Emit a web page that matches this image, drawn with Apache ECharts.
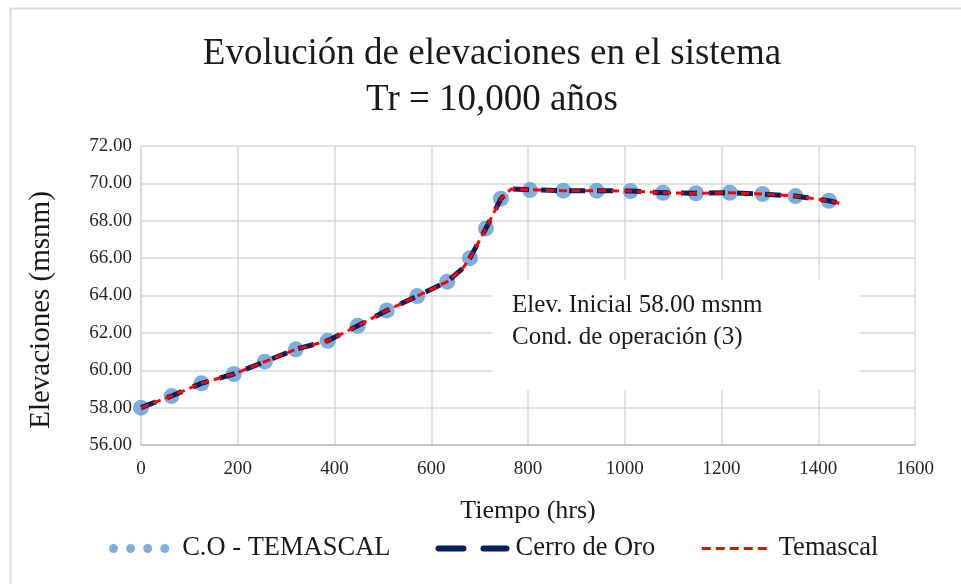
<!DOCTYPE html>
<html>
<head>
<meta charset="utf-8">
<script src="https://cdn.jsdelivr.net/npm/echarts@6/dist/echarts.min.js"></script>
<style>
html,body{margin:0;padding:0;background:#fff;}
#chart{width:961px;height:584px;}
</style>
</head>
<body>
<div id="chart"></div>
<script>
// Data
var titleText = 'Evolución de elevaciones en el sistema\nTr = 10,000 años';
var seriesNames = ['C.O - TEMASCAL', 'Cerro de Oro', 'Temascal'];
var xTicks = [0, 200, 400, 600, 800, 1000, 1200, 1400, 1600];
var yTicks = [56, 58, 60, 62, 64, 66, 68, 70, 72];

// C.O - TEMASCAL (markers)
var coTime = [0, 63, 125, 192, 256, 320, 386, 448, 508, 571, 633, 680, 713, 744, 804, 873, 942, 1012, 1079, 1147, 1217, 1285, 1353, 1422];
var coElev = [58.00, 58.62, 59.30, 59.80, 60.46, 61.12, 61.58, 62.38, 63.20, 63.97, 64.74, 66.00, 67.59, 69.18, 69.64, 69.61, 69.61, 69.59, 69.50, 69.47, 69.50, 69.43, 69.32, 69.07];

// Cerro de Oro (dark dashed line)
var cerroTime = [0, 63, 125, 192, 256, 320, 386, 448, 508, 571, 633, 665, 680, 713, 744, 765, 804, 873, 942, 1012, 1079, 1147, 1217, 1285, 1353, 1422, 1445];
var cerroElev = [58.00, 58.62, 59.30, 59.80, 60.46, 61.12, 61.58, 62.38, 63.20, 63.97, 64.74, 65.45, 66.00, 67.59, 69.18, 69.70, 69.66, 69.61, 69.61, 69.59, 69.50, 69.47, 69.50, 69.43, 69.32, 69.07, 68.93];

// Temascal (red dashed line)
var temTime = [0, 63, 125, 192, 256, 320, 386, 448, 508, 571, 633, 665, 680, 713, 744, 765, 804, 873, 942, 1012, 1079, 1147, 1217, 1285, 1353, 1422, 1445];
var temElev = [58.00, 58.62, 59.30, 59.80, 60.46, 61.12, 61.58, 62.38, 63.20, 63.97, 64.74, 65.45, 66.00, 67.59, 69.18, 69.70, 69.66, 69.61, 69.61, 69.59, 69.50, 69.47, 69.50, 69.43, 69.32, 69.07, 68.93];

var noteLines = ['Elev. Inicial 58.00 msnm', 'Cond. de operación (3)'];

function pairs(xs, ys) { return xs.map(function (x, i) { return [x, ys[i]]; }); }

var FONT = '"Liberation Serif", "Times New Roman", serif';
var chart = echarts.init(document.getElementById('chart'), null, {renderer: 'canvas'});

var dotsIcon = 'path://M0,5a5,5 0 1,0 10,0a5,5 0 1,0 -10,0Z M19,5a5,5 0 1,0 10,0a5,5 0 1,0 -10,0Z M38,5a5,5 0 1,0 10,0a5,5 0 1,0 -10,0Z M57,5a5,5 0 1,0 10,0a5,5 0 1,0 -10,0Z';

var option = {
  backgroundColor: '#fff',
  animation: false,
  title: {
    text: titleText,
    left: 487,
    top: 26,
    textAlign: 'center',
    textStyle: {fontFamily: FONT, fontSize: 37, fontWeight: 'normal', color: '#1a1a1a', lineHeight: 46}
  },
  grid: {left: 141, right: 46, top: 146, bottom: 139, containLabel: false},
  xAxis: {
    type: 'value', min: xTicks[0], max: xTicks[xTicks.length - 1], interval: 200,
    name: 'Tiempo (hrs)', nameLocation: 'middle', nameGap: 53,
    nameTextStyle: {fontFamily: FONT, fontSize: 26, color: '#1a1a1a'},
    axisLine: {show: true, lineStyle: {color: '#bfbfbf', width: 1.5}},
    axisTick: {show: false},
    axisLabel: {fontFamily: FONT, fontSize: 19, color: '#262626', margin: 15,
      formatter: function (v) { return String(v); }},
    splitLine: {show: true, lineStyle: {color: '#d9d9d9', width: 1.5}}
  },
  yAxis: {
    type: 'value', min: yTicks[0], max: yTicks[yTicks.length - 1], interval: 2,
    name: 'Elevaciones (msnm)', nameLocation: 'middle', nameGap: 85,
    nameTextStyle: {fontFamily: FONT, fontSize: 29, color: '#1a1a1a', padding: [0, 29, 0, 0]},
    axisLine: {show: true, lineStyle: {color: '#d9d9d9', width: 1.5}},
    axisTick: {show: false},
    axisLabel: {fontFamily: FONT, fontSize: 19, color: '#262626', margin: 9,
      formatter: function (v) { return v.toFixed(2); }},
    splitLine: {show: true, lineStyle: {color: '#d9d9d9', width: 1.5}}
  },
  legend: {
    top: 530,
    left: 104,
    itemGap: 45,
    itemWidth: 68,
    itemHeight: 9,
    textStyle: {fontFamily: FONT, fontSize: 26.5, color: '#1a1a1a', padding: [0, 0, 0, 4]},
    data: [
      {name: seriesNames[0], icon: dotsIcon, itemStyle: {color: '#5b9bd5'}},
      {name: seriesNames[1], itemStyle: {opacity: 0}, lineStyle: {color: '#002060', width: 6, type: [25, 20], cap: 'round'}},
      {name: seriesNames[2], itemStyle: {opacity: 0}, lineStyle: {color: '#ff0000', width: 3, type: [9, 5]}}
    ]
  },
  series: [
    {
      name: seriesNames[0], type: 'scatter', symbol: 'circle', symbolSize: 16,
      itemStyle: {color: '#5b9bd5'},
      data: pairs(coTime, coElev), z: 2
    },
    {
      name: seriesNames[1], type: 'line', symbol: 'none',
      lineStyle: {color: '#002060', width: 5, type: [16, 12]},
      itemStyle: {color: '#002060'},
      data: pairs(cerroTime, cerroElev), z: 3
    },
    {
      name: seriesNames[2], type: 'line', symbol: 'none',
      lineStyle: {color: '#ff0000', width: 3, type: [8, 5]},
      itemStyle: {color: '#ff0000'},
      data: pairs(temTime, temElev), z: 4
    }
  ],
  graphic: [
    {type: 'rect', left: 8, top: 6, z: -10, silent: true,
      shape: {width: 975, height: 577},
      style: {fill: 'none', stroke: '#d9d9d9', lineWidth: 2}},
    {type: 'rect', left: 492, top: 280, z: 10, silent: true,
      shape: {width: 368, height: 110},
      style: {fill: '#ffffff', stroke: 'none'}},
    {type: 'text', left: 512, top: 289, z: 11, silent: true,
      style: {text: noteLines.join('\n'), font: '25px ' + FONT, fill: '#1a1a1a', lineHeight: 32}}
  ]
};
chart.setOption(option);
</script>
</body>
</html>
